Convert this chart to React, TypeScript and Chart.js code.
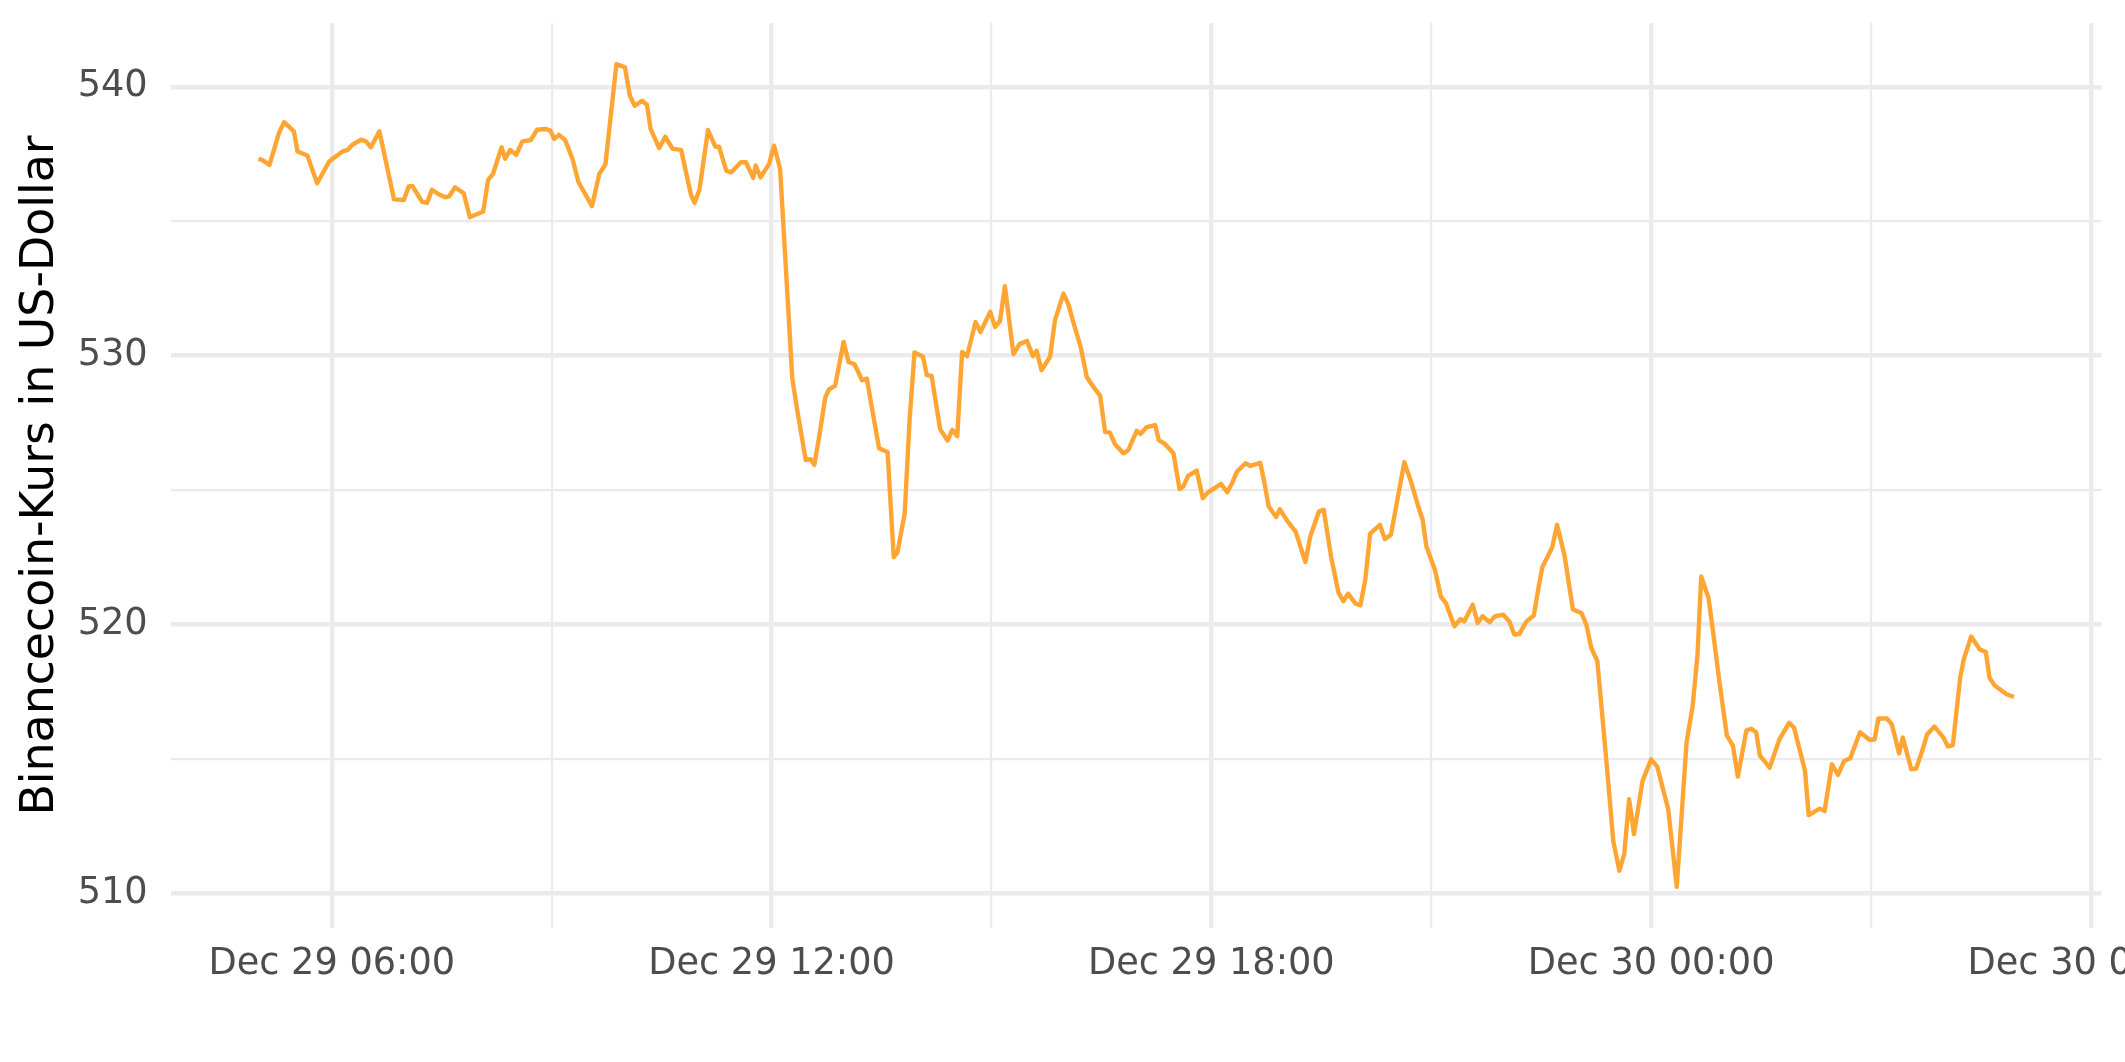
import React, { useEffect, useRef } from 'react';
import { Chart, registerables } from 'chart.js';

Chart.register(...registerables);

// minutes since Dec 29 00:00
const minutes = [
  300, 303, 309, 317, 321, 329, 332, 340, 348, 358, 369, 373, 377, 384, 388, 392, 399, 411, 419, 423,
  426, 434, 438, 442, 448, 453, 456, 461, 468, 473, 484, 488, 492, 499, 502, 506, 511, 516, 523, 528,
  535, 539, 542, 546, 551, 557, 562, 573, 579, 584, 593, 600, 604, 608, 614, 618, 621, 628, 633, 639,
  646, 654, 657, 661, 668, 674, 677, 683, 687, 695, 699, 705, 707, 711, 718, 722, 727, 737, 741, 748,
  752, 755, 759, 764, 767, 772, 779, 783, 788, 794, 798, 802, 808, 815, 820, 823, 829, 833, 837, 844,
  847, 851, 858, 864, 868, 872, 876, 880, 887, 891, 899, 903, 907, 911, 918, 923, 929, 934, 937, 941,
  948, 952, 959, 963, 967, 973, 978, 983, 989, 993, 997, 1001, 1008, 1012, 1019, 1022, 1027, 1034, 1037, 1042,
  1049, 1054, 1057, 1061, 1068, 1073, 1077, 1088, 1093, 1097, 1101, 1108, 1112, 1120, 1123, 1127, 1133, 1136, 1142, 1149,
  1157, 1161, 1168, 1172, 1178, 1184, 1188, 1192, 1198, 1202, 1206, 1210, 1218, 1222, 1227, 1238, 1243, 1249, 1253, 1256,
  1263, 1268, 1272, 1279, 1284, 1287, 1294, 1298, 1302, 1308, 1312, 1319, 1324, 1328, 1332, 1338, 1344, 1348, 1351, 1359,
  1363, 1369, 1376, 1383, 1387, 1391, 1396, 1404, 1409, 1414, 1418, 1422, 1426, 1433, 1440, 1445, 1454, 1461, 1469, 1474,
  1478, 1481, 1487, 1491, 1496, 1502, 1507, 1511, 1518, 1522, 1526, 1529, 1537, 1545, 1553, 1557, 1566, 1569, 1578, 1582,
  1588, 1593, 1598, 1603, 1611, 1619, 1623, 1626, 1633, 1637, 1643, 1646, 1653, 1657, 1662, 1666, 1672, 1679, 1683, 1687,
  1693, 1696, 1702, 1709, 1714, 1717, 1721, 1731, 1737,
];

const prices = [
  537.32, 537.28, 537.09, 538.31, 538.68, 538.34, 537.59, 537.44, 536.41, 537.23, 537.6, 537.65, 537.85, 538.03, 537.97, 537.75, 538.34, 535.81, 535.79, 536.29,
  536.31, 535.72, 535.68, 536.17, 535.99, 535.89, 535.92, 536.26, 536.04, 535.15, 535.36, 536.54, 536.76, 537.75, 537.32, 537.65, 537.47, 537.97, 538.02, 538.4,
  538.43, 538.37, 538.06, 538.21, 538.02, 537.32, 536.45, 535.56, 536.76, 537.11, 540.84, 540.72, 539.67, 539.29, 539.48, 539.33, 538.43, 537.72, 538.14, 537.69,
  537.65, 535.99, 535.68, 536.18, 538.39, 537.77, 537.77, 536.87, 536.82, 537.19, 537.19, 536.61, 537.07, 536.63, 537.13, 537.81, 536.95, 529.15, 527.98, 526.12,
  526.15, 525.94, 526.99, 528.45, 528.75, 528.88, 530.51, 529.77, 529.68, 529.09, 529.15, 528.1, 526.56, 526.41, 522.51, 522.68, 524.14, 527.61, 530.12, 529.96,
  529.28, 529.25, 527.27, 526.84, 527.24, 527.01, 530.14, 529.98, 531.25, 530.88, 531.63, 531.07, 531.29, 532.58, 530.06, 530.43, 530.55, 529.98, 530.18, 529.46,
  529.96, 531.32, 532.31, 531.91, 531.25, 530.33, 529.21, 528.87, 528.51, 527.17, 527.14, 526.72, 526.37, 526.49, 527.21, 527.09, 527.34, 527.42, 526.86, 526.72,
  526.37, 525.04, 525.13, 525.53, 525.73, 524.7, 524.91, 525.23, 524.92, 525.26, 525.69, 526.0, 525.9, 526.02, 525.38, 524.39, 524.0, 524.29, 523.87, 523.46,
  522.33, 523.28, 524.2, 524.27, 522.53, 521.2, 520.87, 521.15, 520.78, 520.72, 521.67, 523.38, 523.71, 523.18, 523.34, 526.04, 525.38, 524.45, 523.9, 522.91,
  522.04, 521.03, 520.8, 519.94, 520.21, 520.12, 520.74, 520.06, 520.31, 520.09, 520.31, 520.37, 520.12, 519.63, 519.65, 520.12, 520.34, 521.42, 522.14, 522.87,
  523.71, 522.6, 520.56, 520.43, 520.0, 519.14, 518.64, 514.62, 511.96, 510.85, 511.47, 513.51, 512.21, 514.19, 514.99, 514.72, 513.14, 510.25, 515.61, 516.97,
  518.89, 521.79, 520.99, 519.63, 517.84, 515.88, 515.49, 514.35, 516.07, 516.13, 516.0, 515.14, 514.68, 515.73, 516.35, 516.17, 514.56, 512.92, 513.16, 513.07,
  514.81, 514.41, 514.93, 515.03, 516.0, 515.71, 515.73, 516.51, 516.51, 516.3, 515.21, 515.8, 514.62, 514.65, 515.32, 515.93, 516.21, 515.82, 515.47, 515.52,
  518.03, 518.72, 519.56, 519.08, 518.98, 518.03, 517.75, 517.41, 517.31,
];

const xTickMinutes = [360, 540, 720, 900, 1080, 1260, 1440, 1620, 1800];
const xLabelledMinutes = [360, 720, 1080, 1440, 1800];
const yTickValues = [510, 515, 520, 525, 530, 535, 540];
const yLabelledValues = [510, 520, 530, 540];
const yTitle = 'Binancecoin-Kurs in US-Dollar';
const monthName = 'Dec';
const firstDay = 29;

const pad2 = (n: number) => String(n).padStart(2, '0');
const formatMinute = (m: number) => {
  const day = firstDay + Math.floor(m / 1440);
  const rem = m % 1440;
  return `${monthName} ${day} ${pad2(Math.floor(rem / 60))}:${pad2(rem % 60)}`;
};

export default function App() {
  const ref = useRef<HTMLCanvasElement | null>(null);

  useEffect(() => {
    if (!ref.current) return;
    const xmin = Math.min(...minutes);
    const xmax = Math.max(...minutes);
    const ymin = Math.min(...prices);
    const ymax = Math.max(...prices);
    const ex = (xmax - xmin) * 0.05;
    const ey = (ymax - ymin) * 0.05;
    const font = 'DejaVu Sans';

    const chart = new Chart(ref.current, {
      type: 'line',
      data: {
        datasets: [
          {
            data: minutes.map((m, i) => ({ x: m, y: prices[i] })),
            borderColor: '#FFA533',
            borderWidth: 4.4,
            pointRadius: 0,
            tension: 0,
            fill: false,
            borderJoinStyle: 'round',
            borderCapStyle: 'butt',
          },
        ],
      },
      options: {
        animation: false,
        responsive: false,
        devicePixelRatio: 1,
        layout: { padding: { top: 23, right: 23.3, left: 0, bottom: 0 }, autoPadding: false },
        plugins: { legend: { display: false }, tooltip: { enabled: false }, title: { display: false } },
        scales: {
          x: {
            type: 'linear',
            min: xmin - ex,
            max: xmax + ex,
            afterBuildTicks: (s: any) => {
              s.ticks = xTickMinutes.map((v) => ({ value: v }));
            },
            afterFit: (s: any) => {
              s.height = 134;
              s.paddingLeft = 0;
              s.paddingRight = 0;
              s.paddingTop = 0;
              s.paddingBottom = 0;
            },
            border: { display: false },
            grid: {
              color: '#EBEBEB',
              drawTicks: false,
              lineWidth: (c: any) => (c.tick && xLabelledMinutes.includes(c.tick.value) ? 4.4 : 2.2),
            },
            ticks: {
              autoSkip: false,
              maxRotation: 0,
              minRotation: 0,
              padding: 14,
              color: '#4D4D4D',
              font: { family: font, size: 36.7, lineHeight: 1.2 },
              callback: (v: any) => (xLabelledMinutes.includes(Number(v)) ? formatMinute(Number(v)) : ''),
            },
          },
          y: {
            type: 'linear',
            min: ymin - ey,
            max: ymax + ey,
            afterBuildTicks: (s: any) => {
              s.ticks = yTickValues.map((v) => ({ value: v }));
            },
            afterFit: (s: any) => {
              s.width = 170.7;
              s.paddingLeft = 0;
              s.paddingRight = 0;
              s.paddingTop = 0;
              s.paddingBottom = 0;
            },
            border: { display: false },
            grid: {
              color: '#EBEBEB',
              drawTicks: false,
              lineWidth: (c: any) => (c.tick && yLabelledValues.includes(c.tick.value) ? 4.4 : 2.2),
            },
            ticks: {
              padding: 23,
              color: '#4D4D4D',
              font: { family: font, size: 36.7 },
              callback: (v: any) => (yLabelledValues.includes(Number(v)) ? String(v) : ''),
            },
            title: {
              display: true,
              text: yTitle,
              color: '#000000',
              font: { family: font, size: 45.8, lineHeight: 1 },
              padding: { top: 18, bottom: 0 },
            },
          },
        },
      },
    });
    return () => chart.destroy();
  }, []);

  return (
    <div style={{ position: 'fixed', left: 0, top: 0, width: 2125, height: 1062, background: '#ffffff' }}>
      <canvas ref={ref} width={2125} height={1062} style={{ display: 'block', width: 2125, height: 1062 }} />
    </div>
  );
}
